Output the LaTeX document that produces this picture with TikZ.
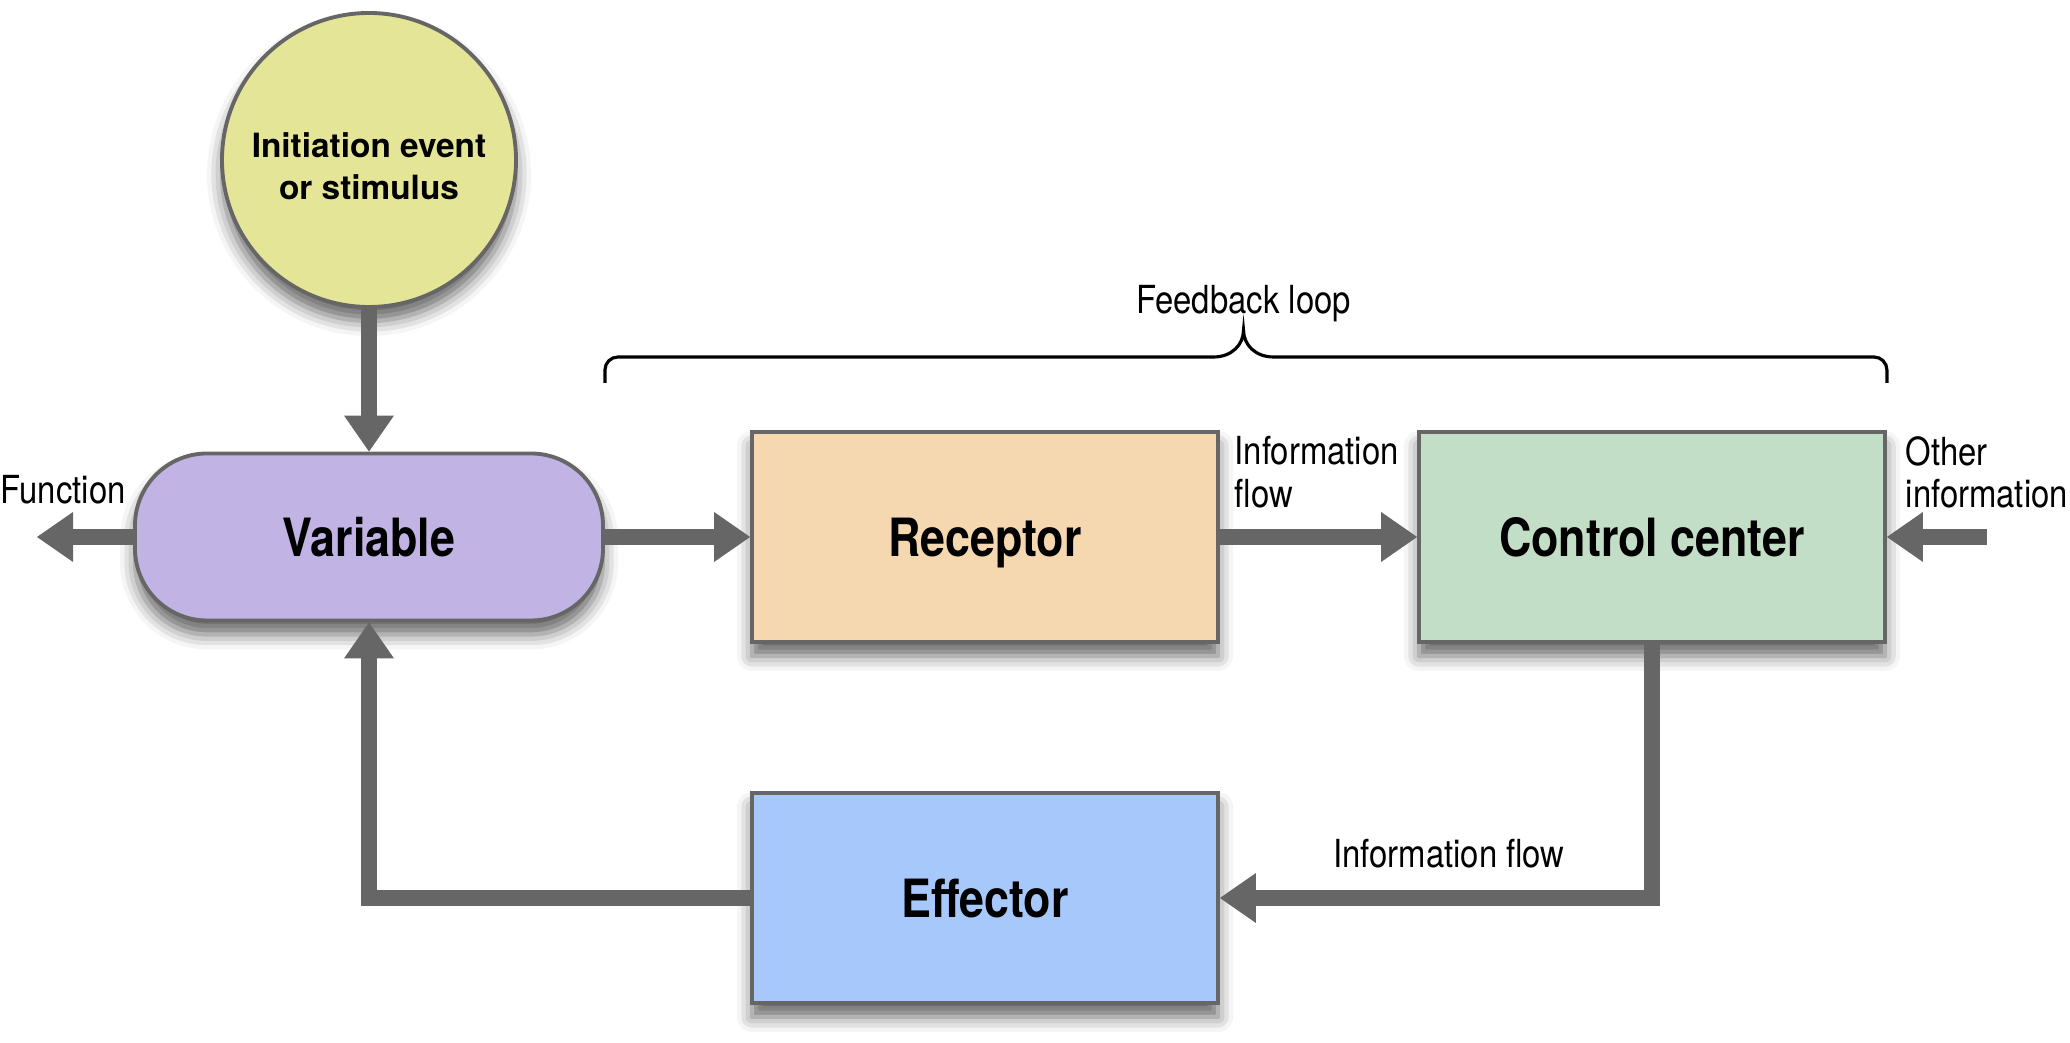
\documentclass[tikz,border=0pt]{standalone}
\usepackage{fontspec}
\setmainfont{TeX Gyre Heros}
\newfontfamily\narrowsf[FakeStretch=0.85]{TeX Gyre Heros}
\usepackage{tikz}
\usetikzlibrary{arrows.meta,positioning,calc,shadows.blur}
\definecolor{edgegray}{RGB}{102,102,102}
\definecolor{flowgray}{RGB}{102,102,102}
\definecolor{stimfill}{RGB}{229,229,152}
\definecolor{varfill}{RGB}{193,180,229}
\definecolor{recfill}{RGB}{245,215,176}
\definecolor{ctrlfill}{RGB}{194,222,199}
\definecolor{efffill}{RGB}{167,200,250}
\tikzset{
  softshadow/.style ={blur shadow={shadow xshift=0pt,shadow yshift=-1.4mm,
                       shadow blur radius=1.5mm,shadow opacity=60}},
  blockbox/.style   ={draw=edgegray,line width=1.1pt,align=center,softshadow,
                       font=\narrowsf\bfseries\fontsize{15}{18}\selectfont,text depth=0pt,
                       minimum width=4.66cm,minimum height=2.1cm},
  pillbox/.style    ={blockbox,rounded corners=0.72cm,minimum width=4.68cm,
                       minimum height=1.67cm},
  stimcircle/.style ={draw=edgegray,line width=1.1pt,circle,align=center,softshadow,
                       font=\bfseries\fontsize{9.5}{12}\selectfont,
                       minimum size=2.94cm,inner sep=0pt},
  flow/.style       ={-{Triangle[length=0.36cm,width=0.5cm,line width=0pt]},
                       line width=0.16cm,flowgray},
  lbl/.style        ={font=\narrowsf\fontsize{11}{12}\selectfont,inner sep=0pt,align=left},
  bracepath/.style  ={line width=0.9pt,black},
}

\begin{document}
\begin{tikzpicture}
\useasboundingbox (0,0) rectangle (20.70,10.43);
% ---- stimulus and variable ----
\node[stimcircle,fill=stimfill] (stim) at (3.69,8.83)
  {\rule{0pt}{0.38cm}Initiation event\\or stimulus};
\node[pillbox,fill=varfill]     (var)  at (3.69,5.06) {Variable};
% ---- feedback loop blocks ----
\node[blockbox,fill=recfill]  (rec)  at (9.85,5.06)  {Receptor};
\node[blockbox,fill=ctrlfill] (ctrl) at (16.52,5.06) {Control center};
\node[blockbox,fill=efffill]  (eff)  at (9.85,1.45)  {Effector};
% ---- free ends ----
\coordinate (fout) at (0.37,5.06);
\coordinate (oin)  at (19.87,5.06);
% ---- flows ----
\foreach \s/\d in {stim/var,var/rec,rec/ctrl,oin/ctrl,var/fout} \draw[flow] (\s) -- (\d);
\draw[flow] (ctrl.south) |- (eff.east);
\draw[flow] (eff.west) -| (var.south);
% ---- labels ----
\node[lbl,anchor=base west]  (fnlbl)  at (0,5.39)      {Function};
\node[lbl,anchor=north west] (inflbl) at (12.34,6.07)  {Information\\flow};
\node[lbl,anchor=north west] (othlbl) at (19.05,6.07)  {Other\\information};
\node[lbl,anchor=base]       (inflow) at (14.49,1.75)  {Information flow};
\node[lbl,anchor=base]       (fblbl)  at (12.435,7.29) {Feedback loop};
% ---- brace over the loop ----
\coordinate (bl)   at (var.east |- 0,6.60);
\coordinate (br)   at (ctrl.east |- 0,6.60);
\coordinate (btip) at (12.435,7.13);
\draw[bracepath] (bl) -- ++(0,0.13) arc[start angle=180,end angle=90,radius=0.13]
  -- ($(btip)+(-0.30,-0.27)$) .. controls +(0.18,0) and +(0,-0.15) .. (btip)
  .. controls +(0,-0.15) and +(-0.18,0) .. ($(btip)+(0.30,-0.27)$)
  -- ($(br)+(-0.13,0.26)$) arc[start angle=90,end angle=0,radius=0.13] -- (br);
\end{tikzpicture}
\end{document}
